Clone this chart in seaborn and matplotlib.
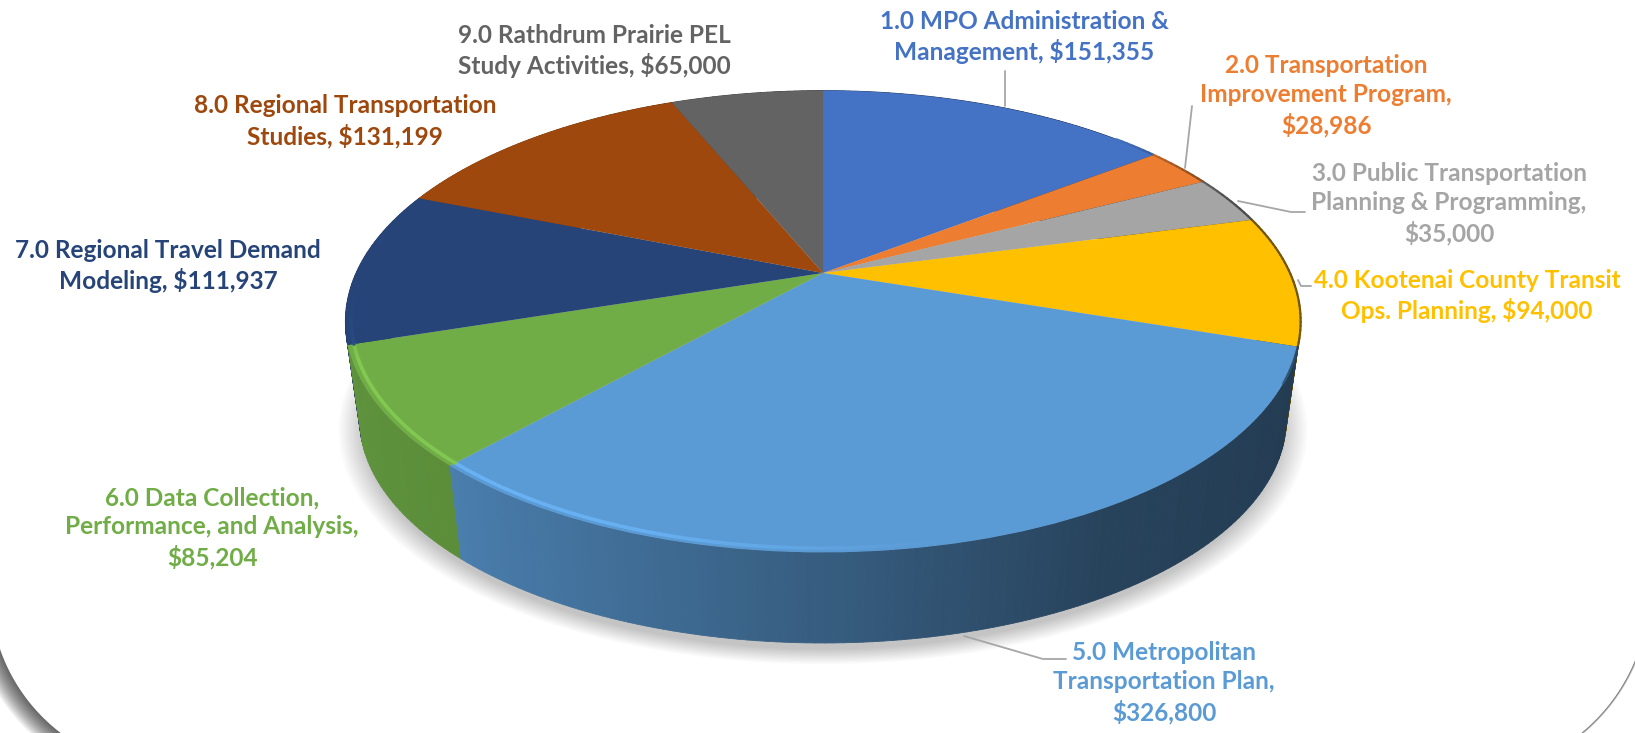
"""
Budget pie (tilted 3D look) rebuilt with seaborn palette + matplotlib pie
"""
import numpy as np
import matplotlib
matplotlib.use("Agg")
import matplotlib.pyplot as plt
import seaborn as sns
from matplotlib.collections import LineCollection, PolyCollection
from matplotlib.colors import to_rgb
from matplotlib.transforms import Transform

# ==============================
# Data
# ==============================
tasks = ["1.0 MPO Administration &\nManagement, $151,355",
         "2.0 Transportation\nImprovement Program,\n$28,986",
         "3.0 Public Transportation\nPlanning & Programming,\n$35,000",
         "4.0 Kootenai County Transit\nOps. Planning, $94,000",
         "5.0 Metropolitan\nTransportation Plan,\n$326,800",
         "6.0 Data Collection,\nPerformance, and Analysis,\n$85,204",
         "7.0 Regional Travel Demand\nModeling, $111,937",
         "8.0 Regional Transportation\nStudies, $131,199",
         "9.0 Rathdrum Prairie PEL\nStudy Activities, $65,000"]
budget = [151355, 28986, 35000, 94000, 326800, 85204, 111937, 131199, 65000]
hex_colors = ["#4472C4", "#ED7D31", "#A5A5A5", "#FFC000", "#5B9BD5",
              "#70AD47", "#264478", "#9E480E", "#636363"]

# label centres and leader lines, in image pixels
label_x = [1024, 1326, 1449, 1467, 1164, 212, 168, 345, 594]
label_y = [37, 96, 204, 296, 683, 528, 266, 121, 51]
leaders = [[(1005, 71), (1005, 106)],
           [(1192, 106), (1185, 168)],
           [(1238, 201), (1291, 212), (1305, 212)],
           [(1298, 280), (1301, 286), (1311, 286)],
           [(964, 636), (1043, 659), (1066, 659)]]

# ==============================
# Perspective of the pie disc
# ==============================
CX, CY = 823, 273
BX, BY, K = 467, 220.7, 0.21
WALL_DROP, WALL_SCALE = 99, 0.97


def project(x, y, scale=1.0, drop=0.0):
    d = 1 + K * y
    return CX + scale * BX * x / d, CY + drop - scale * BY * y / d


class DiscToImage(Transform):
    input_dims = output_dims = 2

    def transform_non_affine(self, values):
        px, py = project(values[:, 0], values[:, 1])
        return np.column_stack([px, py])


def card_outline(d=0.0):
    # white card: straight sides, round bottom corners (left shadow is heavier)
    a = np.linspace(np.pi, np.pi * 0.5, 60)
    left = np.column_stack([170 - d * 0.35 + (180 + d) * np.cos(a),
                            590 + (180 + d) * np.sin(a)])
    b = np.linspace(np.pi * 0.5, 0, 60)
    right = np.column_stack([1464 + (185 + d * 0.12) * np.cos(b),
                             590 + (185 + d * 0.12) * np.sin(b)])
    top = [(right[-1, 0], -50), (left[0, 0], -50)]
    return np.vstack([left, right, top])


sns.set_theme(style="white")
plt.rcParams["font.family"] = ["Lato", "DejaVu Sans"]
palette = sns.color_palette(hex_colors)

fig = plt.figure(figsize=(16.35, 7.33), dpi=100, facecolor="white")
ax = fig.add_axes([0, 0, 1, 1])

wedges, _ = ax.pie(budget, colors=palette, startangle=90, counterclock=False,
                   radius=1, frame=False)
ax.set_aspect("auto")
ax.set_xlim(0, 1635)
ax.set_ylim(733, 0)
ax.axis("off")
for w in wedges:
    w.set_transform(DiscToImage() + ax.transData)
    w.set_zorder(6)
    w.set_linewidth(0)

# ==============================
# Slide card with its rounded bottom corners
# ==============================
for d in np.linspace(16, 0.5, 12):
    poly = card_outline(d)
    ax.fill(poly[:, 0], poly[:, 1], color="black", alpha=0.07, lw=0, zorder=1)
poly = card_outline()
ax.fill(poly[:, 0], poly[:, 1], color="white", lw=0, zorder=2)

# ==============================
# Soft shadow under the pie
# ==============================
t = np.linspace(0, 2 * np.pi, 300)
for grow in np.linspace(1.045, 0.99, 12):
    sx, sy = project(np.sin(t), np.cos(t), WALL_SCALE * grow, WALL_DROP + 9)
    ax.fill(sx, sy, color="black", alpha=0.018, lw=0, zorder=3)

# ==============================
# Side wall and rim, shaded by angle
# ==============================
edges = np.concatenate([[0], np.cumsum(budget)]) / np.sum(budget) * 2 * np.pi
quads, quad_colors, quad_depth = [], [], []
glow_segs, glow_colors, dark_segs, dark_colors = [], [], [], []
for i, base in enumerate(palette):
    base = np.array(to_rgb(base))
    ang = np.linspace(edges[i], edges[i + 1], max(int((edges[i + 1] - edges[i]) * 60), 4))
    for a0, a1 in zip(ang[:-1], ang[1:]):
        s0, c0, s1, c1 = np.sin(a0), np.cos(a0), np.sin(a1), np.cos(a1)
        top0, top1 = project(s0, c0), project(s1, c1)
        bot0 = project(s0, c0, WALL_SCALE, WALL_DROP)
        bot1 = project(s1, c1, WALL_SCALE, WALL_DROP)
        mid = (s0 + s1) / 2
        shade = np.interp(mid, [-1, -0.7, 0, 0.5, 1], [0.85, 0.82, 0.6, 0.43, 0.38])
        quads.append([top0, top1, bot1, bot0])
        quad_colors.append(base * shade)
        quad_depth.append((c0 + c1) / 2)

        # bevel: light along the front left, dark at the far right edge
        if c0 < 0.15 and mid < 0.2:
            glow = np.interp(mid, [-1, -0.93, -0.3, 0.2], [0, 1, 0.8, 0])
            r = 0.988
            glow_segs.append([project(r * s0, r * c0), project(r * s1, r * c1)])
            glow_colors.append(np.clip(base * (1 + 0.16 * glow), 0, 1))
        if mid > 0.72 and c0 > -0.45:
            dark = np.interp(mid, [0.72, 0.95], [0, 0.55])
            dark_segs.append([top0, top1])
            dark_colors.append(base * (1 - dark))

order = np.argsort(quad_depth)[::-1]
ax.add_collection(PolyCollection([quads[j] for j in order],
                                 facecolors=[quad_colors[j] for j in order],
                                 edgecolors=[quad_colors[j] for j in order],
                                 linewidths=0.6, zorder=5))
ax.add_collection(LineCollection(glow_segs, colors=glow_colors, linewidths=2.6,
                                 capstyle="round", zorder=7))
ax.add_collection(LineCollection(dark_segs, colors=dark_colors, linewidths=1.6,
                                 capstyle="round", zorder=7))

# ==============================
# Labels and leader lines
# ==============================
for pts in leaders:
    xs, ys = zip(*pts)
    ax.plot(xs, ys, color="#A6A6A6", lw=1.3, zorder=8)

for name, x, y, col in zip(tasks, label_x, label_y, palette):
    ax.text(x, y, name, color=col, ha="center", va="center", fontsize=17.6,
            fontweight="bold", linespacing=1.33, zorder=9)

fig.savefig("out.png", dpi=100)
